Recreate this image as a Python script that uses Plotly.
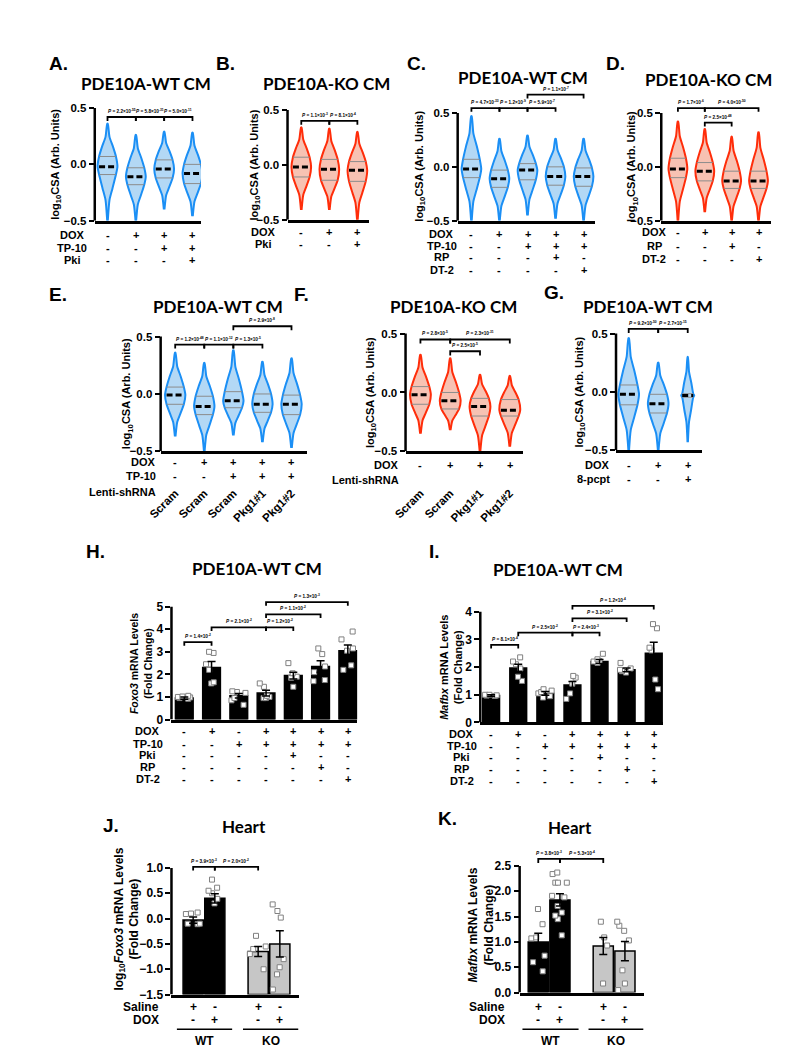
import plotly.graph_objects as go

W, H = 788, 1050
FONT = 'Liberation Sans'
TITLE_FONT = 'Lato'
BLUE, BLUE_FILL = '#1b8ff5', '#b3d8f5'
RED, RED_FILL = '#ff2d0a', '#f7c2b3'
GREY_BAR = '#c6c6c6'

# violin summaries, one row per condition: [lowest, q1, median, q3, highest] (log10 CSA)
A_violins = [[-0.50, -0.09, -0.02, 0.07, 0.36],
             [-0.50, -0.18, -0.11, -0.03, 0.26],
             [-0.40, -0.12, -0.04, 0.04, 0.29],
             [-0.46, -0.17, -0.08, 0.00, 0.28]]
B_violins = [[-0.41, -0.11, -0.02, 0.07, 0.34],
             [-0.41, -0.14, -0.04, 0.05, 0.33],
             [-0.50, -0.15, -0.05, 0.03, 0.30]]
C_violins = [[-0.50, -0.10, -0.02, 0.07, 0.47],
             [-0.50, -0.19, -0.11, -0.03, 0.26],
             [-0.45, -0.12, -0.03, 0.03, 0.29],
             [-0.48, -0.17, -0.09, 0.00, 0.26],
             [-0.50, -0.18, -0.09, -0.01, 0.26]]
D_violins = [[-0.50, -0.10, -0.02, 0.08, 0.42],
             [-0.42, -0.13, -0.04, 0.04, 0.35],
             [-0.50, -0.20, -0.13, -0.04, 0.28],
             [-0.50, -0.20, -0.13, -0.04, 0.32]]
E_violins = [[-0.37, -0.09, -0.01, 0.06, 0.36],
             [-0.50, -0.18, -0.11, -0.02, 0.27],
             [-0.36, -0.12, -0.06, 0.02, 0.38],
             [-0.42, -0.16, -0.09, 0.00, 0.28],
             [-0.47, -0.18, -0.09, -0.01, 0.31]]
F_violins = [[-0.35, -0.10, -0.02, 0.05, 0.32],
             [-0.32, -0.14, -0.07, 0.00, 0.29],
             [-0.50, -0.20, -0.12, -0.05, 0.15],
             [-0.46, -0.20, -0.15, -0.06, 0.14]]
G_violins = [[-0.50, -0.11, -0.02, 0.06, 0.46],
             [-0.50, -0.18, -0.10, -0.02, 0.25],
             [-0.43, -0.045, -0.03, -0.015, 0.30]]

# qPCR bars: means, SEM and individual replicates
H_means = [0.95, 2.30, 1.05, 1.17, 1.95, 2.35, 3.05]
H_sem = [0.05, 0.27, 0.10, 0.13, 0.15, 0.25, 0.25]
H_points = [[1.05, 1.02, 0.98, 0.95, 1.00, 0.92],
            [3.00, 2.95, 2.45, 2.20, 1.65, 1.60],
            [1.25, 1.22, 1.18, 0.95, 0.85, 0.65],
            [1.60, 1.45, 1.00, 0.95, 0.95, 1.05],
            [2.50, 2.05, 1.90, 1.85, 1.45],
            [3.15, 2.90, 2.35, 2.10, 1.75, 1.70],
            [3.90, 3.55, 3.15, 3.05, 2.40, 2.20]]
I_means = [0.97, 1.97, 1.05, 1.35, 2.20, 1.90, 2.50]
I_sem = [0.03, 0.13, 0.07, 0.13, 0.07, 0.07, 0.40]
I_points = [[1.00, 1.00, 0.98, 0.97, 0.96],
            [2.35, 2.20, 2.10, 1.95, 1.65, 1.50],
            [1.20, 1.15, 1.10, 1.05, 0.95, 0.90],
            [1.68, 1.62, 1.40, 1.05, 0.85],
            [2.48, 2.28, 2.22, 2.20, 2.15],
            [2.15, 1.95, 1.90, 1.85, 1.80],
            [3.55, 3.40, 2.70, 2.60, 1.55, 1.20]]
J_means = [-0.03, 0.40, -0.65, -0.50]
J_sem = [0.06, 0.09, 0.10, 0.26]
J_points = [[0.12, 0.10, 0.09, -0.10, -0.11, -0.10],
            [0.77, 0.61, 0.55, 0.50, 0.39, 0.30],
            [-0.34, -0.60, -0.70, -1.00, -0.55],
            [0.28, 0.15, 0.02, -0.80, -0.96, -1.10, -1.40]]
K_means = [1.00, 1.83, 0.92, 0.82]
K_sem = [0.17, 0.12, 0.17, 0.19]
K_points = [[1.65, 1.35, 1.09, 1.07, 0.73, 0.60, 0.42],
            [2.37, 2.34, 2.17, 2.17, 2.17, 1.91, 1.88, 1.71, 1.58, 1.52, 1.45, 1.13],
            [1.40, 1.09, 0.93, 0.18],
            [1.40, 1.32, 1.22, 1.03, 0.44, 0.18, 0.05]]
heart_x = [0, 1, 3, 4]
heart_colors = ['black', 'black', GREY_BAR, GREY_BAR]

# significance brackets: (group a, group b, height, P mantissa, P exponent)
A_p = [(0, 1, 0.42, '2.2', '-55'), (1, 2, 0.42, '5.8', '-31'), (2, 3, 0.42, '5.0', '-11')]
B_p = [(0, 1, 0.40, '1.1', '-3'), (1, 2, 0.40, '8.1', '-4')]
C_p = [(0, 1, 0.545, '4.7', '-33'), (1, 2, 0.545, '1.2', '-9'), (2, 3, 0.545, '5.9', '-7'),
       (2, 4, 0.67, '1.1', '-7')]
D_p = [(0, 1, 0.545, '1.7', '-6'), (1, 3, 0.545, '4.0', '-50'), (1, 2, 0.41, '2.5', '-48')]
E_p = [(0, 1, 0.43, '1.2', '-48'), (1, 2, 0.43, '1.1', '-12'), (2, 3, 0.43, '1.3', '-5'),
       (2, 4, 0.59, '2.9', '-8')]
F_p = [(0, 1, 0.45, '2.8', '-5'), (1, 3, 0.45, '2.3', '-31'), (1, 2, 0.35, '2.5', '-5')]
G_p = [(0, 1, 0.54, '9.2', '-50'), (1, 2, 0.54, '2.7', '-15')]
H_p = [(0, 1, 3.43, '1.4', '-2'), (1, 3, 4.08, '2.1', '-2'), (3, 4, 4.08, '1.2', '-2'),
       (3, 5, 4.66, '1.1', '-2'), (3, 6, 5.2, '1.3', '-3')]
I_p = [(0, 1, 2.8, '8.1', '-4'), (1, 3, 3.24, '2.5', '-2'), (3, 4, 3.24, '2.4', '-3'),
       (3, 5, 3.76, '3.1', '-2'), (3, 6, 4.21, '1.2', '-4')]
J_p = [(0, 1, 1.02, '3.9', '-3'), (1, 3, 1.02, '2.0', '-2')]
K_p = [(0, 1, 2.64, '3.8', '-3'), (1, 3, 2.64, '5.3', '-4')]

# treatment rows under each panel
A_rows = [('DOX', '-+++'), ('TP-10', '--++'), ('Pki', '---+')]
B_rows = [('DOX', '-++'), ('Pki', '--+')]
C_rows = [('DOX', '-++++'), ('TP-10', '--+++'), ('RP', '---+-'), ('DT-2', '----+')]
D_rows = [('DOX', '-+++'), ('RP', '--+-'), ('DT-2', '---+')]
E_rows = [('DOX', '-++++'), ('TP-10', '--+++'), ('Lenti-shRNA', '')]
F_rows = [('DOX', '-+++'), ('Lenti-shRNA', '')]
G_rows = [('DOX', '-++'), ('8-pcpt', '--+')]
HI_rows = [('DOX', '-+-++++'), ('TP-10', '--+++++'), ('Pki', '----+--'),
           ('RP', '-----+-'), ('DT-2', '------+')]
heart_rows = [('Saline', '+-+-'), ('DOX', '-+-+')]
E_shrna = ['Scram', 'Scram', 'Scram', 'Pkg1#1', 'Pkg1#2']
F_shrna = ['Scram', 'Scram', 'Pkg1#1', 'Pkg1#2']

fig = go.Figure()
lay = {}
shapes = []
anns = []


def names(k):
    s = '' if k == 1 else str(k)
    return 'x' + s, 'y' + s


def txt(t, x, y, size, xref='paper', yref='paper', xanchor='center', yanchor='middle',
        angle=0, family=FONT, **kw):
    if xref == 'paper':
        x = x / W
    if yref == 'paper':
        y = 1 - y / H
    anns.append(dict(text=t, x=x, y=y, xref=xref, yref=yref, xanchor=xanchor, yanchor=yanchor,
                     textangle=angle, showarrow=False,
                     font=dict(family=family, size=size, color='black', weight='bold'), **kw))


def axes(k, xpx, xr, ypx, yr, ytop, ticks, fmt, tsize=11.5):
    xn, yn = names(k)
    (pt, pb), (lo, hi) = ypx, yr
    top_px = pt - (ytop - hi) * (pb - pt) / (hi - lo)
    lay['xaxis' + xn[1:]] = dict(domain=[xpx[0] / W, xpx[1] / W], range=xr, anchor=yn,
                                 showline=True, linecolor='black', linewidth=2.5, ticks='',
                                 showticklabels=False, showgrid=False, zeroline=False)
    lay['yaxis' + yn[1:]] = dict(domain=[1 - pb / H, 1 - top_px / H], range=[lo, ytop], anchor=xn,
                                 showline=False, ticks='outside', ticklen=5, tickwidth=2,
                                 tickcolor='black', tickvals=ticks, tickformat=fmt,
                                 tickfont=dict(family=FONT, size=tsize, color='black', weight='bold'),
                                 showgrid=False, zeroline=False)
    shapes.append(dict(type='line', xref='paper', yref=yn, x0=xpx[0] / W, x1=xpx[0] / W,
                       y0=lo, y1=hi, line=dict(color='black', width=2.5)))


def violins(k, stats, line, fill, halves=None):
    xn, yn = names(k)
    qx, qy, mx, my = [], [], [], []
    for i, (lo, q1, med, q3, hi) in enumerate(stats):
        half = halves[i] if halves else 0.35
        ys = [lo, q1 - 0.55 * (q1 - lo), q1 - 0.3 * (q1 - lo), q1, med,
              q3, q3 + 0.3 * (hi - q3), q3 + 0.6 * (hi - q3), hi]
        ws = [0.03, 0.2, 0.5, 0.85, 1.0, 0.85, 0.55, 0.2, 0.03]
        xs = [i + half * w for w in ws] + [i - half * w for w in ws[::-1]]
        fig.add_trace(go.Scatter(x=xs, y=ys + ys[::-1], xaxis=xn, yaxis=yn, mode='lines',
                                 fill='toself', fillcolor=fill,
                                 line=dict(color=line, width=2, shape='spline', smoothing=0.6),
                                 hoverinfo='skip', showlegend=False))
        for q in (q1, q3):
            qx += [i - 0.85 * half, i + 0.85 * half, None]
            qy += [q, q, None]
        mx += [i - 0.85 * half, i + 0.85 * half, None]
        my += [med, med, None]
    fig.add_trace(go.Scatter(x=qx, y=qy, xaxis=xn, yaxis=yn, mode='lines',
                             line=dict(color='#8c8c8c', width=1), hoverinfo='skip', showlegend=False))
    fig.add_trace(go.Scatter(x=mx, y=my, xaxis=xn, yaxis=yn, mode='lines',
                             line=dict(color='black', width=3, dash='6px,3px'),
                             hoverinfo='skip', showlegend=False))


def bars(k, xpos, means, sem, pts, colors, width, base=0):
    xn, yn = names(k)
    fig.add_trace(go.Bar(x=xpos, y=[m - base for m in means], base=base, width=width,
                         xaxis=xn, yaxis=yn, marker=dict(color=colors, line=dict(color='black', width=1.5)),
                         hoverinfo='skip', showlegend=False))
    fig.add_trace(go.Scatter(x=xpos, y=means, xaxis=xn, yaxis=yn, mode='markers',
                             marker=dict(size=1, color='rgba(0,0,0,0)'),
                             error_y=dict(type='data', array=sem, color='black', thickness=1.5, width=4),
                             hoverinfo='skip', showlegend=False))
    bx, by = [], []
    for x, p in zip(xpos, pts):
        bx += [x] * len(p)
        by += p
    fig.add_trace(go.Box(x=bx, y=by, xaxis=xn, yaxis=yn, boxpoints='all', jitter=0.85, pointpos=0,
                         width=width, fillcolor='rgba(0,0,0,0)',
                         line=dict(width=0, color='rgba(0,0,0,0)'),
                         marker=dict(symbol='square', size=5, color='white',
                                     line=dict(color='#808080', width=1)),
                         hoverinfo='skip', showlegend=False))


def brackets(k, items, tick):
    xn, yn = names(k)
    xs, ys = [], []
    for a, b, y, m, e in items:
        xs += [a, a, b, b, None]
        ys += [y - tick, y, y, y - tick, None]
        txt('<i>P</i> = %s×10<sup>%s</sup>' % (m, e), (a + b) / 2, y, 4.7, xref=xn, yref=yn,
            yanchor='bottom', yshift=1)
    fig.add_trace(go.Scatter(x=xs, y=ys, xaxis=xn, yaxis=yn, mode='lines',
                             line=dict(color='black', width=1.8), hoverinfo='skip', showlegend=False))


def rows(k, items, ypx, lx, anchor, xpos=None, size=11):
    xn, yn = names(k)
    for (name, signs), py in zip(items, ypx):
        txt(name, lx, py, size, xanchor=anchor)
        for i, s in enumerate(signs):
            txt(s, xpos[i] if xpos else i, py, size, xref=xn)


VT = [-0.5, 0, 0.5]
YCSA = 'log<sub>10</sub>CSA (Arb. Units)'

# ---- row 1: A-D ----
axes(1, (75, 183), [-0.45, 3.3], (97, 211), (-0.5, 0.5), 0.56, VT, '.1f')
violins(1, A_violins, BLUE, BLUE_FILL)
brackets(1, A_p, 0.035)
rows(1, A_rows, [225, 238, 251], 52, 'center')

axes(2, (271, 354), [-0.49, 2.42], (99, 210), (-0.5, 0.5), 0.56, VT, '.1f')
violins(2, B_violins, RED, RED_FILL)
brackets(2, B_p, 0.035)
rows(2, B_rows, [222, 234], 247, 'center')

axes(3, (444, 584), [-0.49, 4.42], (102, 211), (-0.5, 0.5), 0.74, VT, '.1f')
violins(3, C_violins, BLUE, BLUE_FILL)
brackets(3, C_p, 0.035)
rows(3, C_rows, [224, 236, 248, 261], 428, 'center')

axes(4, (651, 763), [-0.62, 3.48], (102, 211), (-0.5, 0.5), 0.62, VT, '.1f')
violins(4, D_violins, RED, RED_FILL)
brackets(4, D_p, 0.035)
rows(4, D_rows, [222, 236, 250], 644, 'center')

# ---- row 2: E-G ----
axes(5, (142, 291), [-0.5, 4.54], (328, 444), (-0.5, 0.5), 0.66, VT, '.1f')
violins(5, E_violins, BLUE, BLUE_FILL)
brackets(5, E_p, 0.035)
rows(5, E_rows, [455, 469, 485], 139, 'right')

axes(6, (391, 510), [-0.5, 3.43], (325, 444), (-0.5, 0.5), 0.52, VT, '.1f')
violins(6, F_violins, RED, RED_FILL)
brackets(6, F_p, 0.035)
rows(6, F_rows, [458, 473], 386, 'right')

axes(7, (605, 692), [-0.43, 2.47], (325, 443), (-0.5, 0.5), 0.6, VT, '.1f')
violins(7, G_violins, BLUE, BLUE_FILL, halves=[0.35, 0.35, 0.22])
brackets(7, G_p, 0.035)
rows(7, G_rows, [458, 472], 601, 'right')

for k, labels in ((5, E_shrna), (6, F_shrna)):
    lay['xaxis%d' % k].update(showticklabels=True, tickvals=list(range(len(labels))), ticktext=labels,
                              tickangle=-45, ticklabelstandoff=28,
                              tickfont=dict(family=FONT, size=11.5, color='black', weight='bold'))

# ---- row 3: H, I ----
axes(8, (153, 342), [-0.47, 6.35], (601, 715), (0, 5), 5.45, [0, 1, 2, 3, 4, 5], 'd', 12)
bars(8, list(range(7)), H_means, H_sem, H_points, 'black', 0.65)
brackets(8, H_p, 0.16)
rows(8, HI_rows, [727, 740, 751, 763, 775], 129, 'center')

axes(9, (467, 653), [-0.4, 6.35], (606, 718), (0, 4), 4.4, [0, 1, 2, 3, 4], 'd', 12)
bars(9, list(range(7)), I_means, I_sem, I_points, 'black', 0.62)
brackets(9, I_p, 0.13)
rows(9, HI_rows, [730, 742, 753, 765, 777], 448, 'center')

# ---- row 4: J, K ----
axes(10, (153, 283), [-1.0, 4.9], (865, 993), (-1.5, 1.0), 1.18,
     [-1.5, -1.0, -0.5, 0, 0.5, 1.0], '.1f', 12)
bars(10, heart_x, J_means, J_sem, J_points, heart_colors, 0.93, base=-1.5)
brackets(10, J_p, 0.07)
rows(10, heart_rows, [1006, 1019], 142, 'right', xpos=heart_x, size=12)

axes(11, (507, 633), [-0.86, 4.86], (863, 991), (0, 2.5), 2.78,
     [0, 0.5, 1.0, 1.5, 2.0, 2.5], '.1f', 12)
bars(11, heart_x, K_means, K_sem, K_points, heart_colors, 0.93)
brackets(11, K_p, 0.08)
rows(11, heart_rows, [1006, 1019], 494, 'right', xpos=heart_x, size=12)

for k, spans in ((10, [('WT', -0.75, 1.8), ('KO', 2.3, 4.85)]),
                 (11, [('WT', -0.73, 1.86), ('KO', 2.32, 4.86)])):
    xn, yn = names(k)
    for g, a, b in spans:
        shapes.append(dict(type='line', xref=xn, yref='paper', x0=a, x1=b,
                           y0=1 - 1028 / H, y1=1 - 1028 / H, line=dict(color='black', width=1.5)))
        txt(g, (a + b) / 2, 1040, 12, xref=xn)

# ---- titles, panel letters, axis titles ----
for t, x, y in (('PDE10A-WT CM', 127, 72), ('PDE10A-KO CM', 311, 72), ('PDE10A-WT CM', 510, 66),
                ('PDE10A-KO CM', 699, 68), ('PDE10A-WT CM', 200, 298), ('PDE10A-KO CM', 440, 298),
                ('PDE10A-WT CM', 638, 298), ('PDE10A-WT CM', 240, 562), ('PDE10A-WT CM', 546, 563),
                ('Heart', 227, 823), ('Heart', 558, 824)):
    txt(t, x, y, 17, family=TITLE_FONT)

for t, x, y in (('A.', 38, 52), ('B.', 208, 52), ('C.', 402, 52), ('D.', 604, 52),
                ('E.', 38, 285), ('F.', 285, 285), ('G.', 542, 283), ('H.', 76, 545),
                ('I.', 420, 545), ('J.', 92, 822), ('K.', 434, 815)):
    txt(t, x, y, 19)

for x, y in ((36, 154), (238, 155), (406, 156), (622, 156), (108, 386), (356, 385), (568, 384)):
    txt(YCSA, x, y, 11, angle=-90)
txt('<i>Foxo3</i> mRNA Levels<br>(Fold Change)', 122, 658, 10.5, angle=-90)
txt('<i>Mafbx</i> mRNA Levels<br>(Fold Change)', 437, 662, 11, angle=-90)
txt('log<sub>10</sub><i>Foxo3</i> mRNA Levels<br>(Fold Change)', 108, 917, 12, angle=-90)
txt('<i>Mafbx</i> mRNA Levels<br>(Fold Change)', 468, 923, 12, angle=-90)

fig.update_layout(width=W, height=H, margin=dict(l=0, r=0, t=0, b=0),
                  paper_bgcolor='white', plot_bgcolor='rgba(0,0,0,0)',
                  showlegend=False, shapes=shapes, annotations=anns, **lay)
fig.write_html('out.html')
